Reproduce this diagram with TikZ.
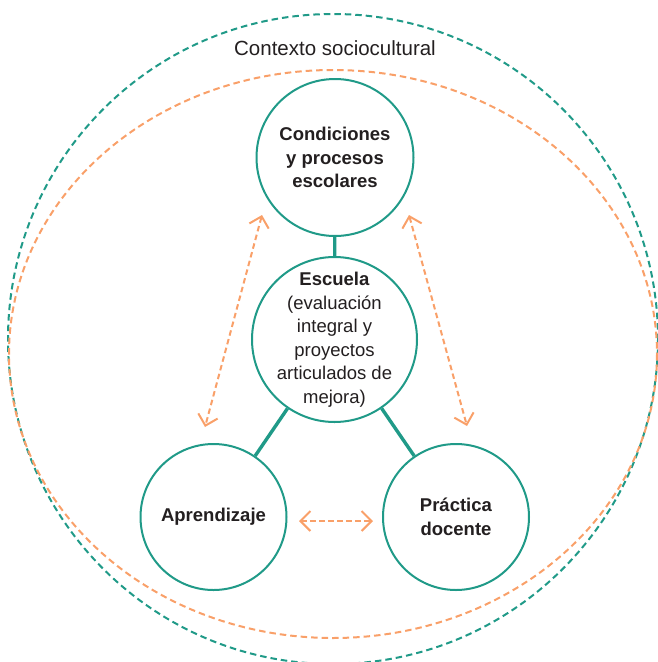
\documentclass[tikz,border=0pt]{standalone}
\usepackage{fontspec}
\setmainfont{Liberation Sans}
\usetikzlibrary{arrows.meta}
\definecolor{ringteal}{RGB}{32,154,136}
\definecolor{linkorange}{RGB}{249,160,105}
\definecolor{inktext}{RGB}{35,31,32}
\begin{document}
\begin{tikzpicture}[x=1pt,y=-1pt,
  bubble/.style={circle,draw=ringteal,line width=2pt,fill=white,
    text=inktext,align=center,inner sep=-12pt,
    font=\fontsize{18.5}{23.5}\selectfont},
  link/.style={draw=ringteal,line width=3.4pt},
  ring/.style={dash pattern=on 6.5pt off 4pt,line width=2pt},
  barb/.tip={Straight Barb[length=10pt,width=20pt,line width=2pt]},
  twoway/.style={draw=linkorange,line width=2pt,dash pattern=on 5.5pt off 3.5pt,
    barb-barb}]
\useasboundingbox (0,0) rectangle (657,662);

% sociocultural context and inner school ring
\draw[ring,draw=ringteal] (333,339) circle[radius=325];
\draw[ring,draw=linkorange] (333,354) ellipse[x radius=324,y radius=284];
\node[text=inktext,font=\fontsize{20.5}{24}\selectfont] (ctx) at (335,48) {Contexto sociocultural};

% main elements
\node[bubble,minimum size=157pt] (cond) at (335,157.5)
  {\textbf{Condiciones}\\\textbf{y procesos}\\\textbf{escolares}};
\node[bubble,minimum size=165pt] (esc) at (334.5,339.5)
  {\textbf{Escuela}\\(evaluación\\integral y\\proyectos\\articulados de\\mejora)};
\node[bubble,minimum size=146pt] (apr) at (213.5,517) {\textbf{Aprendizaje}};
\node[bubble,minimum size=146pt] (pra) at (456,517) {\textbf{Práctica}\\\textbf{docente}};

% links between school and the other elements
\draw[link] (cond) -- (esc);
\draw[link] (esc) -- (apr);
\draw[link] (esc) -- (pra);

% mutual influences
\coordinate (l1) at (262,215);
\coordinate (l2) at (205,427);
\coordinate (r1) at (409,215);
\coordinate (r2) at (467,426);
\coordinate (h1) at (299,521);
\coordinate (h2) at (373,521);
\draw[twoway] (l1) -- (l2);
\draw[twoway] (r1) -- (r2);
\draw[twoway] (h1) -- (h2);
\end{tikzpicture}
\end{document}
